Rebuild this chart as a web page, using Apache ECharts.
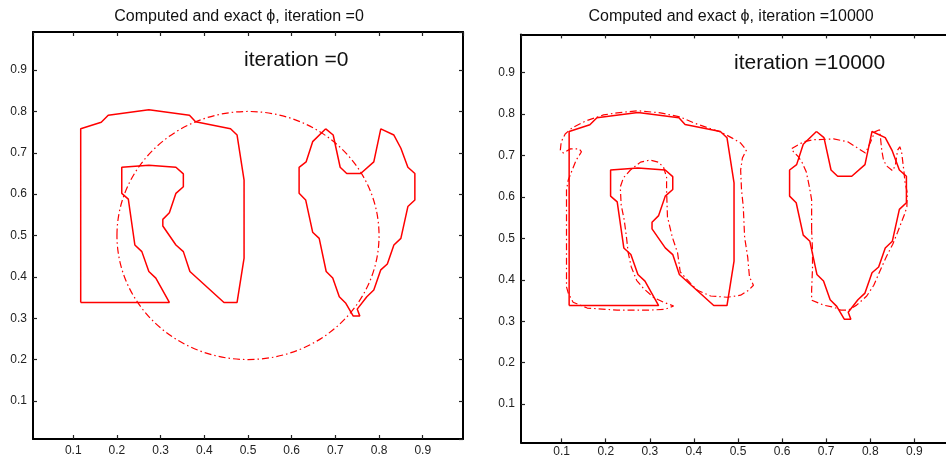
<!DOCTYPE html>
<html>
<head>
<meta charset="utf-8">
<script src="https://cdn.jsdelivr.net/npm/echarts@6/dist/echarts.min.js"></script>
<style>
  html, body { margin: 0; padding: 0; background: #ffffff; }
  #chart { width: 946px; height: 458px; }
</style>
</head>
<body>
<div id="chart"></div>
<script>
// Domain of both panels (cell-centre grid of the unit square)
const AXIS_MIN = 0.0078;
const AXIS_MAX = 0.9922;

// Exact zero level set: letter-like shape on the left
const exactLetterR = [
  [0.117, 0.338], [0.117, 0.758], [0.164, 0.774], [0.180, 0.791], [0.273, 0.804],
  [0.366, 0.791], [0.380, 0.775], [0.460, 0.758], [0.475, 0.743], [0.491, 0.634],
  [0.491, 0.445], [0.475, 0.338], [0.445, 0.338], [0.367, 0.413], [0.352, 0.461],
  [0.335, 0.477], [0.305, 0.523], [0.305, 0.539], [0.320, 0.555], [0.335, 0.602],
  [0.352, 0.618], [0.352, 0.649], [0.335, 0.665], [0.273, 0.670], [0.211, 0.665],
  [0.211, 0.602], [0.226, 0.588], [0.241, 0.477], [0.257, 0.461], [0.273, 0.413],
  [0.289, 0.397], [0.320, 0.338], [0.117, 0.338]
];

// Exact zero level set: heart-like shape on the right
const exactHeart = [
  [0.678, 0.758], [0.648, 0.727], [0.633, 0.678], [0.617, 0.665], [0.617, 0.602],
  [0.632, 0.586], [0.648, 0.508], [0.663, 0.493], [0.679, 0.413], [0.694, 0.397],
  [0.709, 0.352], [0.724, 0.336], [0.741, 0.305], [0.756, 0.305], [0.750, 0.322],
  [0.772, 0.352], [0.788, 0.368], [0.804, 0.417], [0.819, 0.431], [0.834, 0.477],
  [0.850, 0.493], [0.866, 0.570], [0.882, 0.586], [0.882, 0.650], [0.866, 0.665],
  [0.850, 0.711], [0.834, 0.743], [0.804, 0.758], [0.788, 0.678], [0.758, 0.650],
  [0.726, 0.650], [0.711, 0.665], [0.695, 0.743], [0.678, 0.758]
];

// Initial computed level set: circle given as [centre x, centre y, radius]
const initialCircle = [[0.5, 0.5, 0.3]];

// Computed level set after 10000 iterations: left component
const computedLetterR = [
  [0.111, 0.593], [0.111, 0.383], [0.115, 0.368], [0.126, 0.346], [0.158, 0.332],
  [0.226, 0.327], [0.301, 0.327], [0.335, 0.329], [0.354, 0.337], [0.331, 0.346],
  [0.308, 0.358], [0.285, 0.380], [0.270, 0.399], [0.258, 0.431], [0.251, 0.465],
  [0.247, 0.503], [0.242, 0.544], [0.235, 0.581], [0.233, 0.624], [0.240, 0.646],
  [0.256, 0.665], [0.279, 0.684], [0.301, 0.689], [0.319, 0.684], [0.331, 0.672],
  [0.338, 0.648], [0.338, 0.617], [0.340, 0.552], [0.351, 0.503], [0.363, 0.465],
  [0.369, 0.419], [0.392, 0.392], [0.408, 0.375], [0.438, 0.361], [0.476, 0.358],
  [0.506, 0.363], [0.524, 0.375], [0.535, 0.387], [0.526, 0.407], [0.522, 0.455],
  [0.515, 0.503], [0.512, 0.576], [0.508, 0.617], [0.506, 0.665], [0.510, 0.694],
  [0.519, 0.713], [0.506, 0.730], [0.487, 0.742], [0.460, 0.757], [0.431, 0.767],
  [0.399, 0.779], [0.369, 0.793], [0.324, 0.803], [0.272, 0.808], [0.226, 0.803],
  [0.195, 0.798], [0.154, 0.783], [0.124, 0.767], [0.108, 0.752], [0.099, 0.733],
  [0.097, 0.713], [0.104, 0.706], [0.120, 0.716], [0.140, 0.716], [0.145, 0.709],
  [0.133, 0.689], [0.124, 0.665], [0.115, 0.641], [0.111, 0.617], [0.111, 0.593]
];

// Computed level set after 10000 iterations: right component
const computedHeart = [
  [0.667, 0.520], [0.667, 0.593], [0.662, 0.624], [0.655, 0.660], [0.646, 0.682],
  [0.637, 0.697], [0.626, 0.709], [0.621, 0.716], [0.635, 0.725], [0.649, 0.733],
  [0.671, 0.738], [0.717, 0.740], [0.749, 0.733], [0.767, 0.721], [0.789, 0.706],
  [0.801, 0.733], [0.810, 0.757], [0.821, 0.762], [0.823, 0.745], [0.826, 0.713],
  [0.830, 0.689], [0.837, 0.675], [0.851, 0.663], [0.857, 0.677], [0.862, 0.713],
  [0.867, 0.721], [0.871, 0.709], [0.876, 0.665], [0.879, 0.634], [0.884, 0.610],
  [0.883, 0.576], [0.878, 0.559], [0.871, 0.540], [0.862, 0.515], [0.851, 0.486],
  [0.837, 0.457], [0.823, 0.424], [0.808, 0.387], [0.792, 0.361], [0.769, 0.339],
  [0.751, 0.327], [0.733, 0.327], [0.717, 0.334], [0.694, 0.339], [0.667, 0.351],
  [0.667, 0.375], [0.669, 0.428], [0.669, 0.472], [0.667, 0.520]
];

const panelTitles = [
  'Computed and exact \u03d5, iteration =0',
  'Computed and exact \u03d5, iteration =10000'
];
const panelNotes = ['iteration =0', 'iteration =10000'];

const FONT = '"Liberation Sans", Arial, Helvetica, sans-serif';
const RED = '#ff0000';
const DASH_DOT = [7, 3, 1.5, 3];

function tickFormatter(v) {
  const k = Math.round(v * 10);
  return Math.abs(v * 10 - k) < 1e-6 ? (k / 10).toFixed(1) : '';
}

function boxAxis(gridIndex, position, withLabels, margin) {
  return {
    type: 'value',
    gridIndex: gridIndex,
    position: position,
    min: AXIS_MIN,
    max: AXIS_MAX,
    splitNumber: 10,
    axisLine: { show: true, onZero: false, lineStyle: { color: '#000', width: 2 } },
    axisTick: { show: true, inside: true, length: 4, lineStyle: { color: '#222', width: 1.2 } },
    axisLabel: {
      show: withLabels,
      showMinLabel: false,
      showMaxLabel: false,
      margin: margin,
      fontSize: 12,
      fontFamily: FONT,
      color: '#222',
      formatter: tickFormatter
    },
    splitLine: { show: false }
  };
}

function contour(data, xi, yi, dashed) {
  return {
    type: 'line',
    xAxisIndex: xi,
    yAxisIndex: yi,
    data: data,
    showSymbol: false,
    symbol: 'none',
    clip: false,
    silent: true,
    lineStyle: { color: RED, width: dashed ? 1.2 : 1.5, type: dashed ? DASH_DOT : 'solid' }
  };
}

function circleSeries(data, xi, yi) {
  return {
    type: 'custom',
    xAxisIndex: xi,
    yAxisIndex: yi,
    data: data,
    silent: true,
    renderItem: function (params, api) {
      const cx = api.value(0), cy = api.value(1), r = api.value(2);
      const c = api.coord([cx, cy]);
      const e = api.coord([cx + r, cy + r]);
      return {
        type: 'ellipse',
        shape: { cx: c[0], cy: c[1], rx: Math.abs(e[0] - c[0]), ry: Math.abs(c[1] - e[1]) },
        style: { fill: 'none', stroke: RED, lineWidth: 1.2, lineDash: DASH_DOT }
      };
    }
  };
}

const chart = echarts.init(document.getElementById('chart'), null, { renderer: 'canvas' });

chart.setOption({
  animation: false,
  backgroundColor: '#ffffff',
  grid: [
    { left: 33, top: 32, width: 430, height: 407, containLabel: false, outerBoundsMode: 'none' },
    { left: 521, top: 34.4, width: 434, height: 408, containLabel: false, outerBoundsMode: 'none' }
  ],
  xAxis: [
    boxAxis(0, 'bottom', true, 6),
    boxAxis(0, 'top', false, 6),
    boxAxis(1, 'bottom', true, 3),
    boxAxis(1, 'top', false, 6)
  ],
  yAxis: [
    boxAxis(0, 'left', true, 6),
    boxAxis(0, 'right', false, 6),
    boxAxis(1, 'left', true, 6),
    boxAxis(1, 'right', false, 6)
  ],
  graphic: [
    { type: 'text', x: 239, y: 17, style: { text: panelTitles[0], font: '16px ' + FONT, fill: '#111', align: 'center', verticalAlign: 'middle' } },
    { type: 'text', x: 731, y: 17, style: { text: panelTitles[1], font: '16px ' + FONT, fill: '#111', align: 'center', verticalAlign: 'middle' } },
    { type: 'text', x: 244, y: 60, style: { text: panelNotes[0], font: '21px ' + FONT, fill: '#111', align: 'left', verticalAlign: 'middle' } },
    { type: 'text', x: 734, y: 63, style: { text: panelNotes[1], font: '21px ' + FONT, fill: '#111', align: 'left', verticalAlign: 'middle' } }
  ],
  series: [
    contour(exactLetterR, 0, 0, false),
    contour(exactHeart, 0, 0, false),
    circleSeries(initialCircle, 0, 0),
    contour(exactLetterR, 2, 2, false),
    contour(exactHeart, 2, 2, false),
    contour(computedLetterR, 2, 2, true),
    contour(computedHeart, 2, 2, true)
  ]
});
</script>
</body>
</html>
